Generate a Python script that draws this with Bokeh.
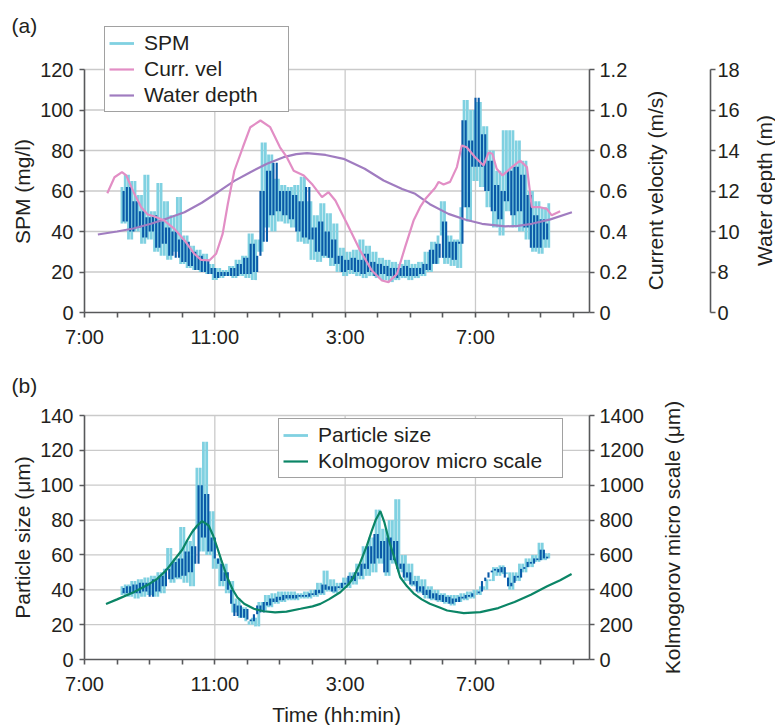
import math
import numpy as np
from bokeh.plotting import figure
from bokeh.layouts import column
from bokeh.models import Range1d, LinearAxis, FixedTicker, Legend, LegendItem, Label
from bokeh.embed import file_html
from bokeh.resources import INLINE

# ---------------- data ----------------
hour_ticks = [7, 8, 9, 10, 11, 12, 13, 14, 15, 16, 17, 18, 19, 20, 21, 22]
hour_tick_labels = ["7:00", "", "", "", "11:00", "", "", "", "3:00", "", "", "", "7:00", "", "", ""]
grid_hours = [11, 15, 19]
time_span = (7, 22.5)

spm_ticks = [0, 20, 40, 60, 80, 100, 120]
vel_ticks = [0, 0.2, 0.4, 0.6, 0.8, 1.0, 1.2]
vel_tick_labels = ["0", "0.2", "0.4", "0.6", "0.8", "1.0", "1.2"]
depth_ticks = [6, 8, 10, 12, 14, 16, 18]
depth_tick_labels = ["0", "8", "10", "12", "14", "16", "18"]
size_ticks = [0, 20, 40, 60, 80, 100, 120, 140]
kol_ticks = [0, 200, 400, 600, 800, 1000, 1200, 1400]

# SPM (mg/l), samples every 0.1 h
spm_light_start = 8.1
spm_light = [62, 44, 68, 36, 65, 40, 58, 34, 68, 36,
             50, 30, 64, 28, 55, 26, 48, 30, 57, 24,
             38, 22, 33, 21, 31, 20, 29, 19, 24, 16,
             22, 17, 21, 18, 23, 17, 26, 18, 28, 17,
             39, 16, 36, 30, 84, 42, 78, 40, 66, 45,
             63, 44, 62, 42, 63, 35, 67, 34, 55, 26,
             48, 25, 54, 27, 49, 23, 44, 20, 32, 18,
             30, 19, 31, 18, 36, 17, 33, 18, 30, 17,
             27, 16, 26, 15, 25, 16, 24, 17, 26, 16,
             24, 17, 25, 18, 30, 20, 35, 24, 38, 55,
             24, 38, 23, 36, 22, 52, 105, 45, 100, 65,
             104, 62, 92, 52, 80, 42, 70, 38, 90, 50,
             90, 42, 85, 40, 75, 36, 60, 30, 55, 29,
             52, 32, 54]
spm_dark_start = 8.15
spm_dark = [60, 45, 62, 40, 55, 42, 50, 37, 47, 40,
            48, 32, 45, 34, 42, 28, 40, 27, 36, 25,
            35, 23, 30, 21, 28, 20, 26, 19, 22, 17,
            20, 18, 20, 18, 22, 18, 24, 19, 27, 19,
            34, 20, 28, 60, 35, 70, 48, 74, 50, 60,
            48, 60, 46, 58, 40, 55, 37, 62, 36, 42,
            30, 45, 28, 40, 27, 36, 24, 28, 20, 26,
            21, 27, 20, 26, 19, 29, 20, 25, 18, 24,
            19, 23, 18, 22, 17, 22, 18, 23, 18, 22,
            18, 22, 19, 24, 21, 31, 24, 34, 27, 45,
            27, 35, 26, 35, 34, 95, 52, 85, 72, 106,
            72, 88, 60, 75, 50, 63, 46, 60, 55, 70,
            48, 72, 50, 68, 42, 58, 32, 48, 32, 46,
            36, 44]

# current velocity (m/s)
vel_time = [7.70, 7.92, 8.15, 8.28, 8.53, 8.74, 8.94, 9.15, 9.45, 9.76,
            10.07, 10.37, 10.58, 10.83, 11.04, 11.24, 11.40, 11.60, 11.86, 12.09,
            12.40, 12.70, 13.00, 13.21, 13.42, 13.73, 13.98, 14.29, 14.49, 14.70,
            15.06, 15.46, 15.82, 16.13, 16.33, 16.59, 16.84, 17.10, 17.30, 17.46,
            17.76, 17.87, 18.02, 18.22, 18.43, 18.58, 18.73, 18.99, 19.25, 19.40,
            19.52, 19.65, 19.83, 20.06, 20.37, 20.58, 20.73, 20.98, 21.19, 21.34,
            21.60]
vel = [0.589, 0.668, 0.693, 0.677, 0.586, 0.52, 0.484, 0.474, 0.454, 0.413,
       0.356, 0.29, 0.26, 0.257, 0.29, 0.388, 0.537, 0.70, 0.816, 0.915,
       0.948, 0.915, 0.816, 0.767, 0.70, 0.677, 0.635, 0.57, 0.594, 0.553,
       0.438, 0.306, 0.207, 0.158, 0.15, 0.19, 0.323, 0.454, 0.52, 0.56,
       0.615, 0.645, 0.632, 0.645, 0.718, 0.825, 0.816, 0.767, 0.726, 0.79,
       0.784, 0.71, 0.677, 0.71, 0.75, 0.718, 0.52, 0.52, 0.512, 0.48,
       0.50]

# water depth (m)
depth_time = [7.41, 8.0, 8.5, 9.04, 9.55, 10.07, 10.6, 11.09, 11.6, 12.09,
              12.6, 13.11, 13.5, 13.83, 14.4, 14.95, 15.6, 16.18, 16.75, 17.15,
              17.6, 18.17, 18.7, 19.2, 19.91, 20.3, 20.73, 21.3, 21.96]
depth = [9.85, 10.0, 10.15, 10.38, 10.65, 10.95, 11.42, 11.94, 12.5, 12.93,
         13.35, 13.67, 13.82, 13.87, 13.78, 13.59, 13.1, 12.52, 12.1, 11.86,
         11.35, 10.87, 10.58, 10.38, 10.25, 10.28, 10.38, 10.6, 10.95]

# particle size (um), samples every 0.1 h
size_light_start = 8.1
size_light = [42, 37, 43, 36, 45, 35, 46, 36, 47, 37,
              48, 36, 50, 38, 52, 64, 44, 58, 46, 76,
              44, 68, 42, 75, 110, 62, 125, 60, 85, 52,
              58, 42, 55, 38, 45, 27, 35, 24, 30, 22,
              20, 24, 19, 33, 28, 37, 30, 38, 32, 39,
              33, 39, 34, 39, 34, 38, 35, 39, 35, 40,
              36, 44, 37, 51, 39, 46, 38, 44, 40, 47,
              41, 50, 43, 55, 46, 65, 48, 70, 50, 86,
              55, 75, 48, 80, 55, 92, 50, 60, 45, 55,
              42, 48, 38, 46, 35, 42, 34, 40, 33, 38,
              32, 37, 31, 37, 33, 38, 34, 39, 35, 40,
              37, 42, 40, 46, 45, 53, 48, 54, 49, 50,
              40, 50, 45, 55, 50, 58, 53, 60, 56, 67,
              57, 61, 58]
size_dark_start = 8.15
size_dark = [41, 38, 42, 38, 43, 38, 44, 39, 44, 36,
             46, 39, 48, 42, 52, 46, 56, 47, 58, 48,
             62, 50, 65, 55, 100, 70, 95, 62, 70, 58,
             55, 45, 50, 40, 32, 25, 31, 24, 29, 23,
             22, 26, 31, 27, 33, 31, 35, 33, 36, 34,
             37, 35, 37, 35, 37, 36, 37, 36, 38, 37,
             40, 38, 43, 40, 42, 39, 42, 41, 44, 43,
             48, 45, 50, 48, 55, 52, 65, 55, 72, 58,
             68, 50, 70, 57, 68, 52, 55, 47, 50, 43,
             45, 39, 42, 37, 40, 35, 38, 34, 37, 33,
             36, 32, 35, 33, 36, 35, 37, 36, 38, 38,
             39, 45, 47, 50, 51, 52, 50, 53, 47, 42,
             44, 48, 47, 52, 53, 56, 55, 58, 57, 63,
             58, 59]

# Kolmogorov micro scale (um)
kol_time = [7.66, 8.0, 8.51, 9.0, 9.23, 9.5, 9.74, 10.0, 10.15, 10.3,
            10.46, 10.61, 10.81, 10.95, 11.07, 11.2, 11.38, 11.55, 11.69, 11.9,
            12.2, 12.5, 12.85, 13.2, 13.63, 14.0, 14.24, 14.5, 14.85, 15.1,
            15.26, 15.45, 15.67, 15.82, 15.93, 16.08, 16.2, 16.35, 16.5, 16.69,
            16.9, 17.1, 17.35, 17.6, 17.9, 18.13, 18.64, 19.15, 19.7, 20.2,
            20.7, 21.2, 21.6, 21.95]
kol = [319, 345, 386, 435, 463, 510, 568, 630, 683, 730,
       769, 794, 769, 710, 644, 570, 472, 400, 357, 320,
       291, 277, 270, 275, 291, 305, 319, 345, 386, 430,
       472, 550, 655, 740, 797, 851, 790, 680, 590, 472,
       420, 380, 345, 320, 298, 281, 266, 272, 295, 330,
       372, 420, 455, 491]

# ---------------- styles / layout ----------------
FONT = "Liberation Sans"
TXT = "#231f20"
AXC = "#58595b"
GRID = "#cacaca"
CYAN = "#80d1e1"
DARK = "#0a5aa8"
PINK = "#e28ec5"
PURPLE = "#a07cc0"
GREEN = "#0b8566"
TICK_FS = "20px"
LAB_FS = "21px"

W = 775
HA, HB = 360, 365
PX_L, PX_R = 84, 589          # canvas x of the time-axis ends
PX_DEPTH_AXIS = 710           # canvas x of the water-depth axis
pxh = (PX_R - PX_L) / (time_span[1] - time_span[0])
X_RANGE = (time_span[0] - PX_L / pxh, time_span[0] + (W - PX_L) / pxh)
depth_axis_loc = time_span[0] + (PX_DEPTH_AXIS - PX_L) / pxh


def yrange(lo, hi, top_px, bottom_px, H):
    ppu = (bottom_px - top_px) / (hi - lo)
    return Range1d(lo - (H - bottom_px) / ppu, hi + top_px / ppu)


def bars(start, vals):
    """vertical strokes joining consecutive samples (0.1 h apart)"""
    t = start + 0.1 * np.arange(len(vals))
    mid = np.round((t[:-1] + t[1:]) / 2, 3)
    return dict(x0=mid, y0=vals[:-1], x1=mid, y1=vals[1:])


def style_axis(ax, standoff):
    ax.axis_line_color = AXC
    ax.axis_line_width = 1.6
    ax.major_tick_line_color = AXC
    ax.major_tick_line_width = 1.6
    ax.major_tick_in = 0
    ax.major_tick_out = 5
    ax.minor_tick_line_color = None
    ax.major_label_text_font = FONT
    ax.major_label_text_font_size = TICK_FS
    ax.major_label_text_color = TXT
    ax.major_label_standoff = standoff


def make_fig(H, y_rng):
    p = figure(width=W, height=H, x_range=Range1d(*X_RANGE), y_range=y_rng,
               output_backend="svg", toolbar_location=None, min_border=0,
               min_border_left=0, min_border_right=0, min_border_top=0, min_border_bottom=0)
    p.outline_line_color = None
    p.background_fill_color = "white"
    p.border_fill_color = "white"
    p.xgrid.visible = False
    p.ygrid.visible = False
    xa = p.xaxis[0]
    xa.fixed_location = 0
    xa.bounds = time_span
    xa.ticker = FixedTicker(ticks=hour_ticks)
    xa.major_label_overrides = dict(zip(hour_ticks, hour_tick_labels))
    style_axis(xa, 8)
    return p


def text(p, H, x, y, s, angle=0.0, align="center", size=LAB_FS):
    p.add_layout(Label(x=x, y=H - y, x_units="screen", y_units="screen", text=s,
                       angle=angle, text_align=align, text_baseline="middle",
                       text_font=FONT, text_font_size=size, text_color=TXT))


def grid(p, yticks, ymax):
    hy = [t for t in yticks if t > 0]
    p.segment(x0=[time_span[0]] * len(hy), y0=hy, x1=[time_span[1]] * len(hy), y1=hy,
              line_color=GRID, line_width=1.3)
    p.segment(x0=grid_hours, y0=[0] * len(grid_hours), x1=grid_hours,
              y1=[ymax] * len(grid_hours), line_color=GRID, line_width=1.3)


def style_legend(lg, label_width):
    lg.border_line_color = "#444444"
    lg.border_line_width = 1.5
    lg.background_fill_color = "white"
    lg.background_fill_alpha = 1
    lg.label_text_font = FONT
    lg.label_text_font_size = LAB_FS
    lg.label_text_color = TXT
    lg.glyph_width = 25
    lg.glyph_height = 20
    lg.label_height = 20
    lg.label_width = label_width
    lg.spacing = 2
    lg.padding = 4
    lg.margin = 0
    lg.label_standoff = 10


# ---------------- panel (a) ----------------
pa = make_fig(HA, yrange(0, 120, 69, 312, HA))
pa.extra_y_ranges = {"vel": yrange(0, 1.2, 69, 312, HA), "depth": yrange(6, 18, 69, 312, HA)}
ya = pa.yaxis[0]
ya.fixed_location = time_span[0]
ya.bounds = (spm_ticks[0], spm_ticks[-1])
ya.ticker = FixedTicker(ticks=spm_ticks)
style_axis(ya, 6)

vel_axis = LinearAxis(y_range_name="vel", ticker=FixedTicker(ticks=vel_ticks),
                      major_label_overrides=dict(zip(vel_ticks, vel_tick_labels)),
                      fixed_location=time_span[1], bounds=(vel_ticks[0], vel_ticks[-1]))
style_axis(vel_axis, 5)
pa.add_layout(vel_axis, "right")

depth_axis = LinearAxis(y_range_name="depth", ticker=FixedTicker(ticks=depth_ticks),
                        major_label_overrides=dict(zip(depth_ticks, depth_tick_labels)),
                        fixed_location=depth_axis_loc, bounds=(depth_ticks[0], depth_ticks[-1]))
style_axis(depth_axis, 2)
pa.add_layout(depth_axis, "right")

grid(pa, spm_ticks, spm_ticks[-1])
r_spm = pa.segment(line_color=CYAN, line_width=2.8, line_cap="butt",
                   **bars(spm_light_start, spm_light))
pa.segment(line_color=DARK, line_width=2.1, line_cap="butt", **bars(spm_dark_start, spm_dark))
r_depth = pa.line(depth_time, depth, y_range_name="depth", line_color=PURPLE, line_width=2.2)
r_vel = pa.line(vel_time, vel, y_range_name="vel", line_color=PINK, line_width=2.2)

leg_a = Legend(items=[LegendItem(label="SPM", renderers=[r_spm]),
                      LegendItem(label="Curr. vel", renderers=[r_vel]),
                      LegendItem(label="Water depth", renderers=[r_depth])],
               location=(104, HA - 112))
style_legend(leg_a, 140)
pa.add_layout(leg_a)

text(pa, HA, 11, 25, "(a)", align="left")
text(pa, HA, 22, 191, "SPM (mg/l)", angle=math.pi / 2)
text(pa, HA, 655, 190, "Current velocity (m/s)", angle=math.pi / 2)
text(pa, HA, 764, 190, "Water depth (m)", angle=math.pi / 2)

# ---------------- panel (b) ----------------
TOP_B = 360
pb = make_fig(HB, yrange(0, 140, 415 - TOP_B, 659 - TOP_B, HB))
pb.extra_y_ranges = {"kol": yrange(0, 1400, 415 - TOP_B, 659 - TOP_B, HB)}
yb = pb.yaxis[0]
yb.fixed_location = time_span[0]
yb.bounds = (size_ticks[0], size_ticks[-1])
yb.ticker = FixedTicker(ticks=size_ticks)
style_axis(yb, 6)

kol_axis = LinearAxis(y_range_name="kol", ticker=FixedTicker(ticks=kol_ticks),
                      fixed_location=time_span[1], bounds=(kol_ticks[0], kol_ticks[-1]))
style_axis(kol_axis, 5)
pb.add_layout(kol_axis, "right")

grid(pb, size_ticks, size_ticks[-1])
r_size = pb.segment(line_color=CYAN, line_width=2.8, line_cap="butt",
                    **bars(size_light_start, size_light))
pb.segment(line_color=DARK, line_width=2.1, line_cap="butt", **bars(size_dark_start, size_dark))
r_kol = pb.line(kol_time, kol, y_range_name="kol", line_color=GREEN, line_width=2.2)

leg_b = Legend(items=[LegendItem(label="Particle size", renderers=[r_size]),
                      LegendItem(label="Kolmogorov micro scale", renderers=[r_kol])],
               location=(278, HB - (478 - TOP_B)))
style_legend(leg_b, 240)
pb.add_layout(leg_b)

text(pb, HB, 11, 385 - TOP_B, "(b)", align="left")
text(pb, HB, 22, 537 - TOP_B, "Particle size (\u03bcm)", angle=math.pi / 2)
text(pb, HB, 672, 537 - TOP_B, "Kolmogorov micro scale (\u03bcm)", angle=math.pi / 2)
text(pb, HB, 336, 714 - TOP_B, "Time (hh:min)")

layout = column(pa, pb, spacing=0)
open("out.html", "w").write(file_html(layout, INLINE))
